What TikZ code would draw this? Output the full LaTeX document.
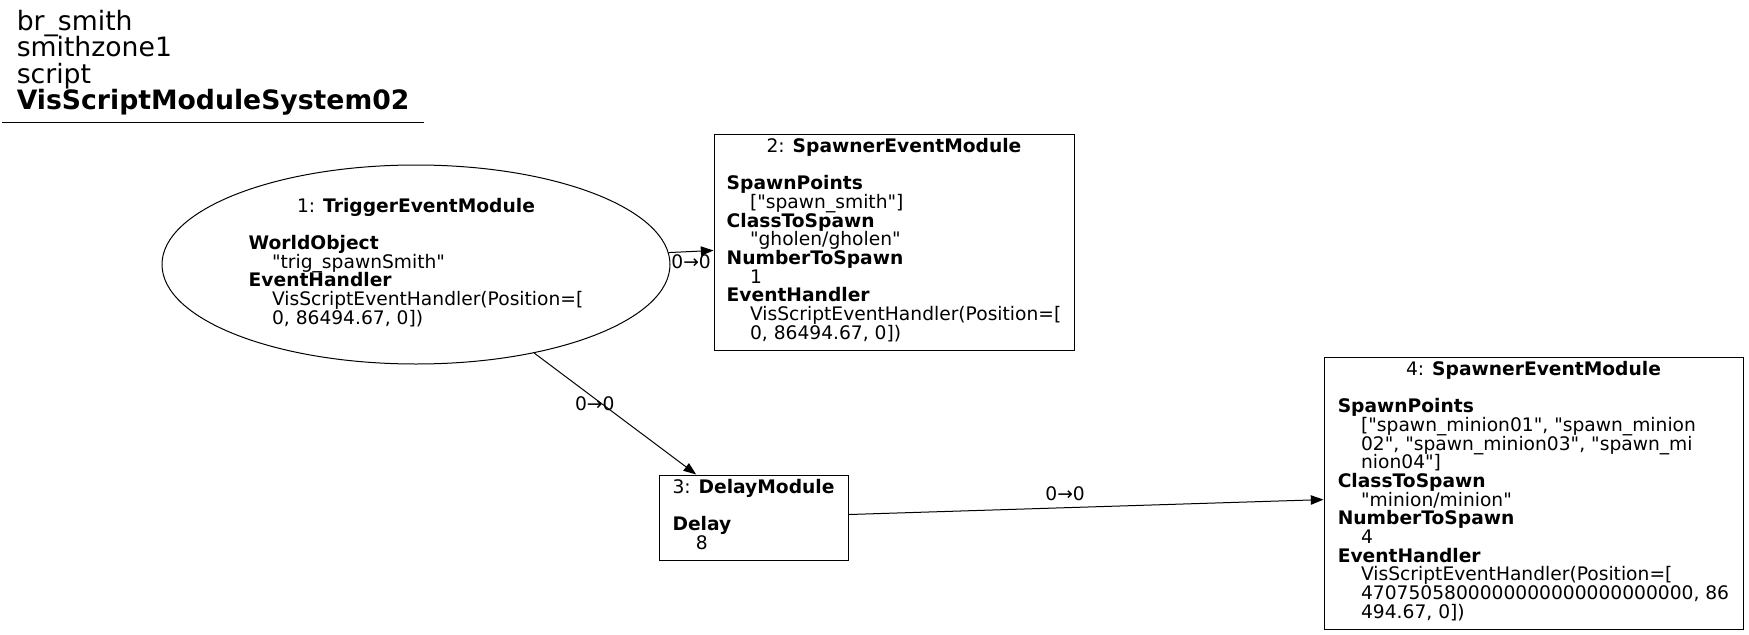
\documentclass[tikz,border=0pt]{standalone}
\usepackage{fontspec}
\usepackage{array}
\setmainfont{DejaVu Sans}[Ligatures=TeXOff]
\usetikzlibrary{arrows.meta,shapes.geometric}
\newcommand{\ind}{\hspace*{17.5pt}}
\newcolumntype{F}{>{\setbox0=\hbox\bgroup}l<{\egroup\ht0=\ht\strutbox\dp0=\dp\strutbox\box0}}
\newcolumntype{C}{>{\setbox0=\hbox\bgroup}c<{\egroup\ht0=\ht\strutbox\dp0=\dp\strutbox\box0}}
\newcommand{\hd}[1]{\multicolumn{1}{@{}C@{}}{#1}}
\tikzset{
  modbox/.style={draw, line width=0.75pt, inner sep=0pt, rectangle},
  modell/.style={draw, line width=0.75pt, inner sep=0pt, ellipse},
  conn/.style={draw, line width=0.75pt, -{Triangle[length=9.5pt,width=7pt]}},
  lbl/.style={inner sep=0pt},
}
\begin{document}
\begin{tikzpicture}[x=0.75pt,y=-0.75pt, every node/.style={font=\fontsize{14}{14}\selectfont}]
\useasboundingbox (0,0) rectangle (1749,635);

\node[anchor=base west, inner sep=0pt, font=\fontsize{20}{19.8}\selectfont] (title) at (16.5,30.5)
 {\begin{tabular}[t]{@{}F@{}}br\_smith\\ smithzone1\\ script\\ \textbf{VisScriptModuleSystem02}\end{tabular}};
\draw[line width=0.75pt] (2,122.5) -- (424,122.5);

\node[modell, minimum width={508*0.75pt}, minimum height={199*0.75pt}] (n1) at (416,264.5)
 {\begin{tabular}{@{}F@{}}\hd{1: \textbf{TriggerEventModule}}\\ \\
 \textbf{WorldObject}\\ \ind"trig\_spawnSmith"\\ \textbf{EventHandler}\\
 \ind VisScriptEventHandler(Position=[\\ \ind 0, 86494.67, 0])\end{tabular}};

\node[modbox, minimum width={360*0.75pt}, minimum height={216*0.75pt}] (n2) at (894,242)
 {\begin{tabular}{@{}F@{}}\hd{2: \textbf{SpawnerEventModule}}\\ \\
 \textbf{SpawnPoints}\\ \ind["spawn\_smith"]\\ \textbf{ClassToSpawn}\\ \ind"gholen/gholen"\\
 \textbf{NumberToSpawn}\\ \ind 1\\ \textbf{EventHandler}\\
 \ind VisScriptEventHandler(Position=[\\ \ind 0, 86494.67, 0])\end{tabular}};

\node[modbox, minimum width={189*0.75pt}, minimum height={85*0.75pt}] (n3) at (753.5,517.5)
 {\begin{tabular}{@{}F@{}}\hd{3: \textbf{DelayModule}}\\ \\
 \textbf{Delay}\\ \ind 8\end{tabular}};

\node[modbox, minimum width={419*0.75pt}, minimum height={272*0.75pt}] (n4) at (1533.5,493)
 {\begin{tabular}{@{}F@{}}\hd{4: \textbf{SpawnerEventModule}}\\ \\
 \textbf{SpawnPoints}\\ \ind["spawn\_minion01", "spawn\_minion\\ \ind 02", "spawn\_minion03", "spawn\_mi\\ \ind nion04"]\\
 \textbf{ClassToSpawn}\\ \ind"minion/minion"\\
 \textbf{NumberToSpawn}\\ \ind 4\\ \textbf{EventHandler}\\
 \ind VisScriptEventHandler(Position=[\\ \ind 4707505800000000000000000000, 86\\ \ind 494.67, 0])\end{tabular}};

\draw[conn] (n1) -- node[lbl, yshift=-7.5pt] {0→0} (n2);
\draw[conn] (n1) -- node[lbl, pos=0.42, xshift=-5.6pt] {0→0} (n3);
\draw[conn] (n3) -- node[lbl, pos=0.456, yshift=10.3pt] {0→0} (n4);
\end{tikzpicture}
\end{document}
